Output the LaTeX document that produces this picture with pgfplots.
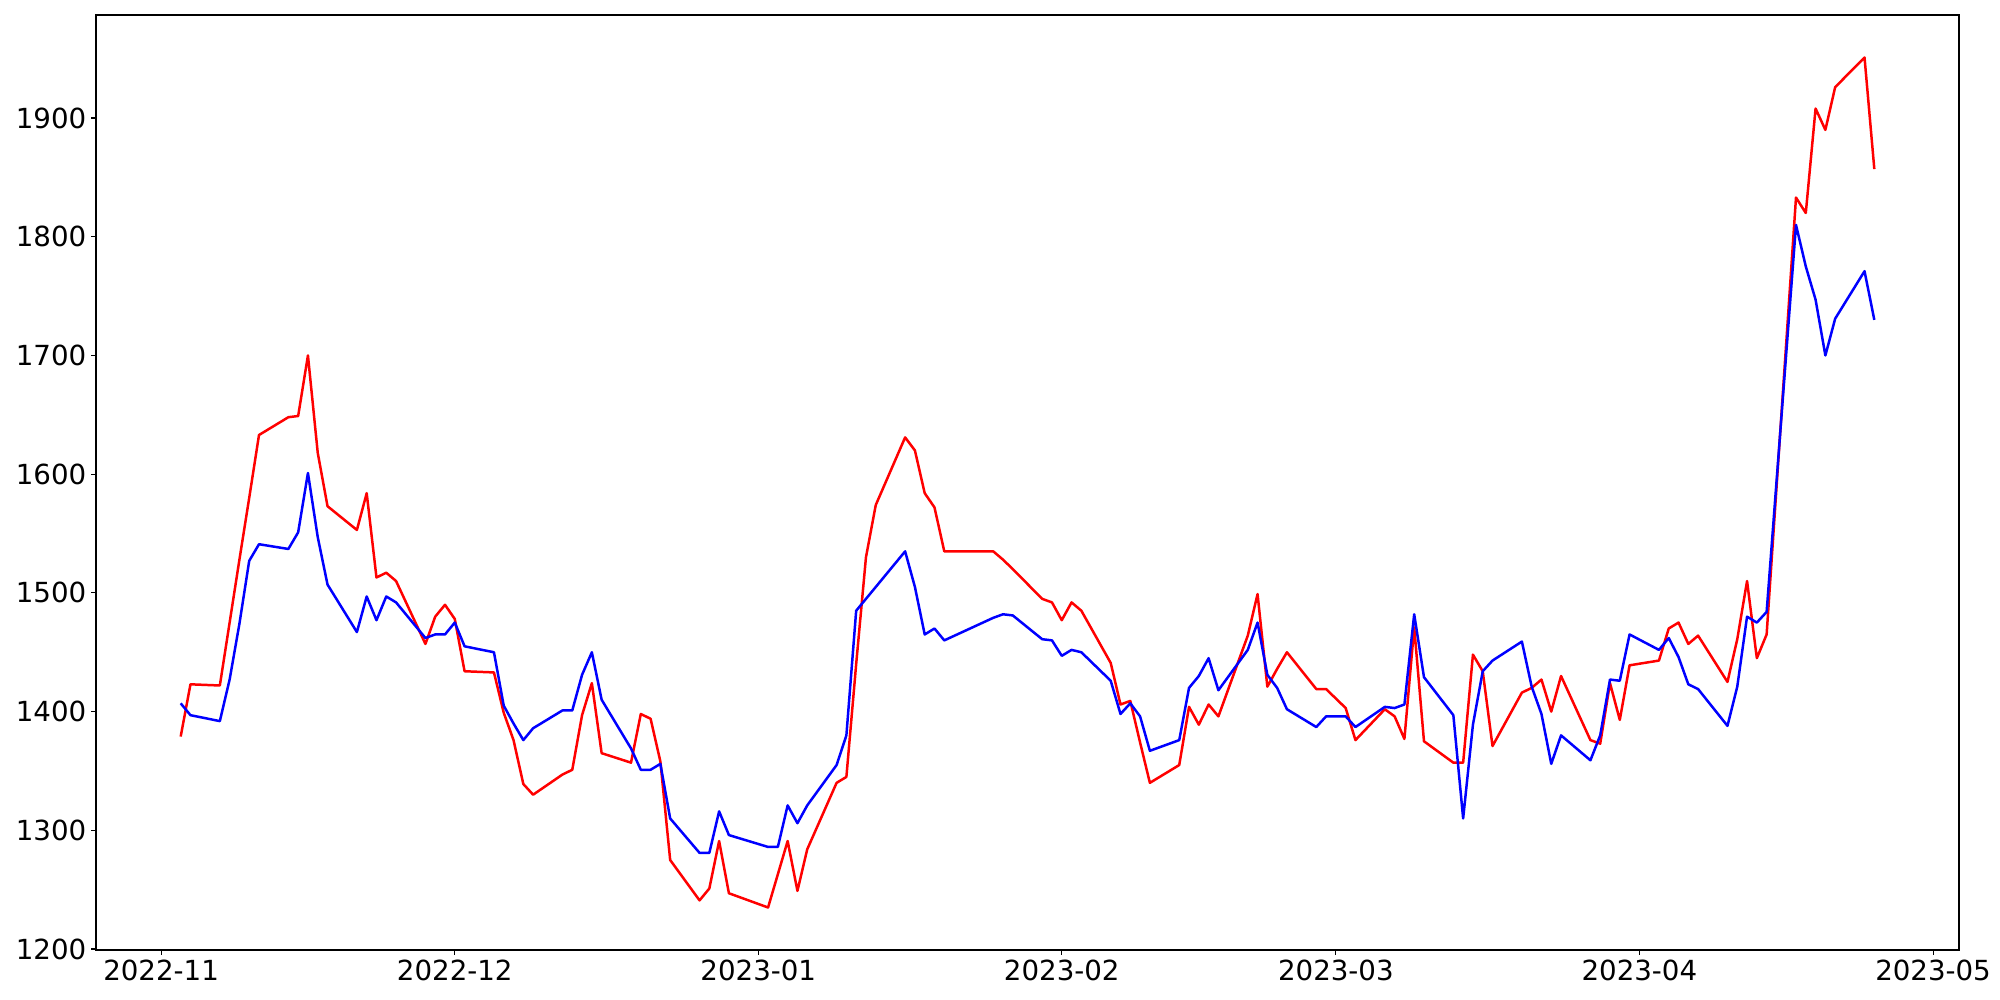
\documentclass[border=0pt]{standalone}
\usepackage{fontspec}
\setmainfont{DejaVu Sans}
\usepackage{pgfplots}
\pgfplotsset{compat=1.18}
\usepackage{pgfplotstable}

% day = days since 2022-11-01 (trading days only)
\pgfplotstableread{
day red blue
2 1379 1407
3 1423 1397
6 1422 1392
7 1475 1427
8 1528 1474
9 1580 1527
10 1633 1541
13 1648 1537
14 1649 1551
15 1700 1601
16 1618 1547
17 1573 1507
20 1553 1467
21 1584 1497
22 1513 1477
23 1517 1497
24 1510 1492
27 1457 1462
28 1480 1465
29 1490 1465
30 1478 1475
31 1434 1455
34 1433 1450
35 1399 1405
36 1376 1390
37 1339 1376
38 1330 1386
41 1347 1401
42 1351 1401
43 1397 1431
44 1424 1450
45 1365 1410
48 1357 1369
49 1398 1351
50 1394 1351
51 1358 1356
52 1275 1310
55 1241 1281
56 1251 1281
57 1291 1316
58 1247 1296
62 1235 1286
63 1263 1286
64 1291 1321
65 1249 1306
66 1284 1321
69 1340 1355
70 1345 1380
71 1440 1485
72 1530 1495
73 1574 1505
76 1631 1535
77 1620 1505
78 1584 1465
79 1572 1470
80 1535 1460
85 1535 1479
86 1528 1482
87 1520 1481
90 1495 1461
91 1492 1460
92 1477 1447
93 1492 1452
94 1485 1450
97 1441 1426
98 1406 1398
99 1409 1407
100 1374 1396
101 1340 1367
104 1355 1376
105 1404 1420
106 1389 1430
107 1406 1445
108 1396 1418
111 1464 1452
112 1499 1475
113 1421 1431
114 1436 1420
115 1450 1402
118 1419 1387
119 1419 1396
121 1403 1396
122 1376 1387
125 1402 1404
126 1396 1403
127 1377 1406
128 1471 1482
129 1375 1429
132 1357 1397
133 1357 1310
134 1448 1389
135 1434 1434
136 1371 1443
139 1416 1459
140 1420 1421
141 1427 1398
142 1400 1356
143 1430 1380
146 1376 1359
147 1373 1380
148 1424 1427
149 1393 1426
150 1439 1465
153 1443 1452
154 1470 1462
155 1475 1446
156 1457 1423
157 1464 1419
160 1425 1388
161 1461 1421
162 1510 1480
163 1445 1475
164 1465 1484
167 1833 1810
168 1820 1775
169 1908 1747
170 1890 1700
171 1926 1731
174 1951 1771
175 1857 1730
}\prices

\begin{document}
\begin{tikzpicture}
\begin{axis}[
    at={(0,0)}, anchor=south west,
    scale only axis, width=18.63in, height=9.35in,
    xmin=-6.65, xmax=183.65, ymin=1199.2, ymax=1986.8,
    xtick={0,30,61,92,120,151,181},
    xticklabels={2022-11,2022-12,2023-01,2023-02,2023-03,2023-04,2023-05},
    ytick={1200,1300,...,1900},
    tick align=outside, xtick pos=bottom, ytick pos=left,
    major tick length=3.5pt,
    every tick/.style={black, line width=0.8pt},
    axis line style={line width=0.8pt},
    tick label style={font=\fontsize{20}{24}\selectfont},
    /pgf/number format/assume math mode=true,
    /pgf/number format/1000 sep={},
  ]
  \addplot[red, line width=1.8pt, line join=round] table[x=day, y=red] {\prices};
  \addplot[blue, line width=1.8pt, line join=round] table[x=day, y=blue] {\prices};
\end{axis}
\pgfresetboundingbox
\path (-0.96in,-0.5in) rectangle (19.04in,9.5in);
\end{tikzpicture}
\end{document}
